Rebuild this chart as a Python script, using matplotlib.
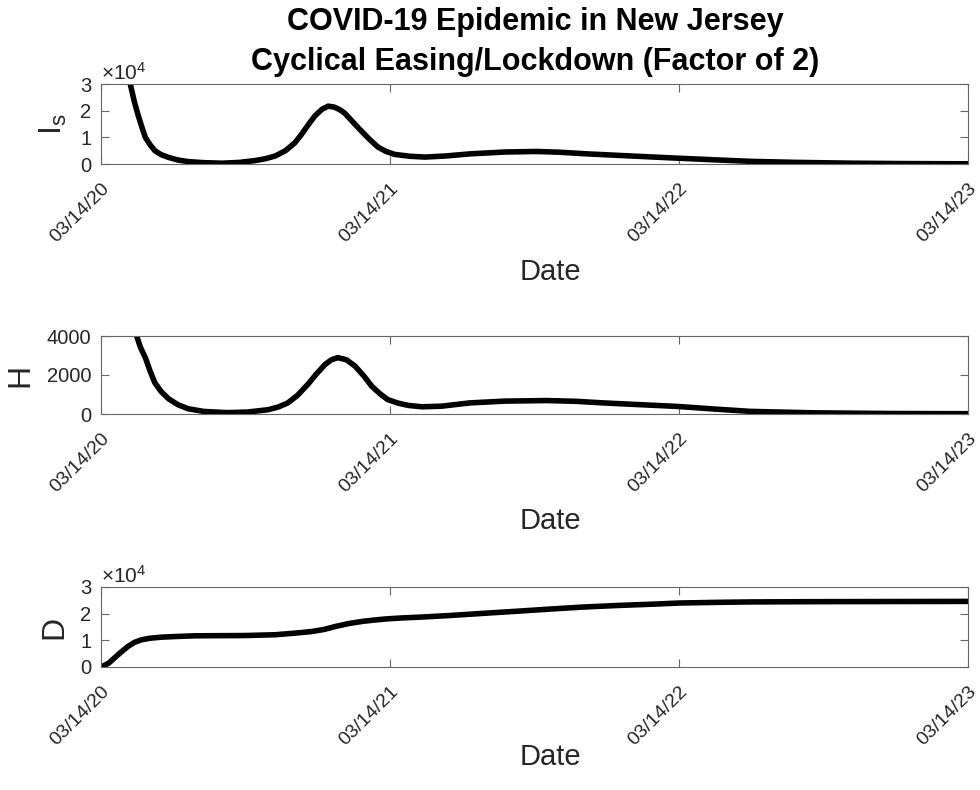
import numpy as np
import matplotlib
matplotlib.use("Agg")
import matplotlib.pyplot as plt
import matplotlib.dates as mdates
from matplotlib.transforms import ScaledTranslation

plt.rcParams['font.family'] = ['Liberation Sans', 'DejaVu Sans']
plt.rcParams['mathtext.fontset'] = 'custom'
plt.rcParams['mathtext.rm'] = 'Liberation Sans'

start = np.datetime64('2020-03-14')

# symptomatic infected (days since 03/14/20)
days_I = [0, 20, 37, 42, 47, 52, 56, 62, 68, 76, 85, 97, 110, 130, 153, 175, 195, 208,
          220, 233, 245, 253, 261, 270, 279, 287, 295, 302, 308, 318, 330, 340, 350,
          360, 371, 390, 409, 435, 466, 510, 551, 580, 614, 670, 727, 780, 820, 880,
          950, 1020, 1095]
I_s = [190000, 70000, 30000, 23500, 18200, 13500, 10000, 7200, 5000, 3500, 2500, 1500,
       900, 500, 300, 600, 1300, 2000, 3000, 5000, 8000, 11000, 14400, 18000, 20500,
       21700, 21300, 20300, 19000, 15800, 12000, 9000, 6300, 4700, 3600, 2900, 2600,
       3000, 3800, 4500, 4700, 4400, 3800, 3000, 2200, 1500, 1000, 600, 300, 150, 80]

# hospitalized
days_H = [0, 6, 30, 45, 50, 56, 62, 68, 76, 85, 97, 110, 130, 160, 185, 211, 224, 236,
          248, 261, 272, 283, 291, 299, 310, 321, 332, 342, 352, 362, 375, 388, 405,
          430, 466, 510, 563, 600, 634, 680, 727, 780, 820, 900, 1000, 1095]
H = [4000, 7000, 8000, 4000, 3400, 2890, 2200, 1600, 1150, 790, 480, 270, 130, 70, 100,
     220, 360, 570, 950, 1510, 2050, 2540, 2780, 2890, 2780, 2450, 1950, 1420, 1050,
     740, 560, 440, 370, 400, 570, 660, 690, 650, 570, 480, 390, 240, 135, 60, 25, 15]

# cumulative deaths
days_D = [0, 5, 10, 17, 25, 34, 42, 51, 62, 77, 100, 119, 182, 220, 245, 266, 282, 296,
          313, 330, 345, 359, 380, 403, 440, 487, 530, 571, 610, 655, 700, 731, 780,
          820, 900, 1000, 1095]
D = [0, 700, 1500, 3400, 5500, 7700, 9200, 10200, 10800, 11200, 11500, 11700, 11800,
     12100, 12700, 13300, 14100, 15200, 16300, 17100, 17600, 18000, 18400, 18700,
     19300, 20200, 21000, 21800, 22500, 23100, 23600, 24000, 24250, 24400, 24500,
     24550, 24600]

xticks = ['2020-03-14', '2021-03-14', '2022-03-14', '2023-03-14']

fig = plt.figure(figsize=(9.8, 7.9), dpi=100)
W = 980.0
Hf = 790.0
left = 101 / W
width = 867 / W
panels = [(84, 164), (336, 414), (587, 667)]
date_label_y = [272, 521, 757]   # pixel centres of the "Date" labels
axes = []
for top, bot in panels:
    axes.append(fig.add_axes([left, 1 - bot / Hf, width, (bot - top) / Hf]))

series = [(days_I, I_s, r'$\mathregular{I_s}$', [0, 1e4, 2e4, 3e4], ['0', '1', '2', '3'], 3e4, True),
          (days_H, H, 'H', [0, 2000, 4000], ['0', '2000', '4000'], 4000, False),
          (days_D, D, 'D', [0, 1e4, 2e4, 3e4], ['0', '1', '2', '3'], 3e4, True)]

tick_dates = np.array(xticks, dtype='datetime64[D]')
fg = '#262626'
for i, (ax, (d, v, lab, yt, ytl, ymax, sci)) in enumerate(zip(axes, series)):
    dates = start + np.array(d, dtype='timedelta64[D]')
    ax.plot(dates, v, color='black', lw=4.0, solid_capstyle='butt')
    ax.set_xlim(tick_dates[0], tick_dates[-1])
    ax.set_ylim(0, ymax)
    ax.set_xticks(tick_dates)
    ax.xaxis.set_major_formatter(mdates.DateFormatter('%m/%d/%y'))
    ax.set_yticks(yt)
    ax.set_yticklabels(ytl)
    ax.tick_params(direction='in', length=6, width=0.8, color='#666666',
                   top=True, right=True, labelsize=14.5, labelcolor=fg, pad=7)
    ax.tick_params(axis='x', pad=0, labelsize=14)
    for s in ax.spines.values():
        s.set_color('#666666')
        s.set_linewidth(0.8)
    for lbl in ax.get_xticklabels():
        lbl.set_rotation(45)
        lbl.set_rotation_mode('anchor')
        lbl.set_ha('right')
        lbl.set_va('top')
        lbl.set_transform(lbl.get_transform() + ScaledTranslation(-0.005, -0.16, fig.dpi_scale_trans))
    top, bot = panels[i]
    ax.set_xlabel('Date', fontsize=21, color=fg, va='center')
    ax.xaxis.set_label_coords(0.518, -(date_label_y[i] - bot) / (bot - top))
    ax.set_ylabel(lab, fontsize=23, color=fg, labelpad=8)
    if sci:
        ax.text(0.0, 1.0, r'$\times\mathregular{10^{4}}$', transform=ax.transAxes,
                fontsize=15, color=fg, ha='left', va='bottom')

fig.text(535 / W, 1 - 22 / Hf, 'COVID-19 Epidemic in New Jersey', fontsize=22,
         fontweight='bold', ha='center', va='center')
fig.text(535 / W, 1 - 62 / Hf, 'Cyclical Easing/Lockdown (Factor of 2)', fontsize=22,
         fontweight='bold', ha='center', va='center')

fig.savefig('out.png', dpi=100)
